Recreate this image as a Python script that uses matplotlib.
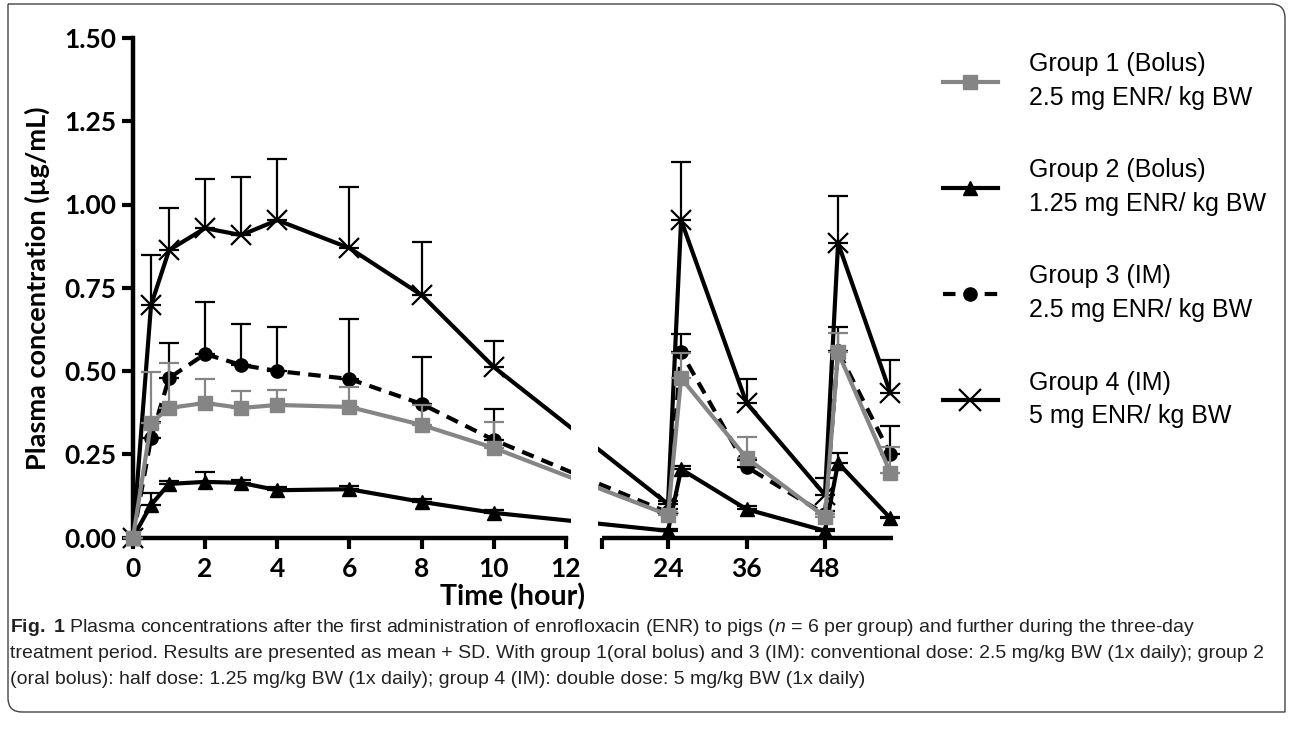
import numpy as np
import matplotlib
matplotlib.use("Agg")
import matplotlib.pyplot as plt
from matplotlib.lines import Line2D
from matplotlib.path import Path
from matplotlib.patches import PathPatch

# ---------------- data ----------------
times = [0, 0.5, 1, 2, 3, 4, 6, 8, 10, 24, 26, 36, 48, 50, 58]

g1_mean = [0, 0.344, 0.389, 0.404, 0.389, 0.398, 0.392, 0.338, 0.269, 0.068, 0.479, 0.239, 0.062, 0.556, 0.195]
g1_sd   = [0, 0.153, 0.135, 0.072, 0.051, 0.045, 0.060, 0.060, 0.078, 0.010, 0.075, 0.063, 0.010, 0.058, 0.077]

g2_mean = [0, 0.098, 0.161, 0.167, 0.164, 0.142, 0.145, 0.107, 0.074, 0.020, 0.205, 0.085, 0.020, 0.224, 0.058]
g2_sd   = [0, 0.035, 0.010, 0.030, 0.010, 0.010, 0.010, 0.010, 0.010, 0.005, 0.010, 0.010, 0.005, 0.030, 0.005]

g3_mean = [0, 0.298, 0.479, 0.551, 0.518, 0.500, 0.476, 0.401, 0.293, 0.075, 0.557, 0.212, 0.070, 0.560, 0.250]
g3_sd   = [0, 0.050, 0.105, 0.156, 0.123, 0.132, 0.180, 0.141, 0.093, 0.010, 0.054, 0.020, 0.010, 0.072, 0.085]

g4_mean = [0, 0.698, 0.863, 0.929, 0.908, 0.953, 0.869, 0.728, 0.512, 0.100, 0.953, 0.404, 0.128, 0.884, 0.434]
g4_sd   = [0, 0.150, 0.126, 0.148, 0.175, 0.184, 0.184, 0.159, 0.078, 0.010, 0.175, 0.072, 0.050, 0.141, 0.099]

x_ticks = [0, 2, 4, 6, 8, 10, 12, 24, 36, 48]
y_ticks = [0, 0.25, 0.50, 0.75, 1.00, 1.25, 1.50]

legend_labels = [
    "Group 1 (Bolus)\n2.5 mg ENR/ kg BW",
    "Group 2 (Bolus)\n1.25 mg ENR/ kg BW",
    "Group 3 (IM)\n2.5 mg ENR/ kg BW",
    "Group 4 (IM)\n5 mg ENR/ kg BW",
]
x_label = "Time (hour)"
y_label = "Plasma concentration (µg/mL)"
caption_lines = [
    r"$\mathbf{Fig.\ 1}$ Plasma concentrations after the first administration of enrofloxacin (ENR) to pigs ($\mathit{n}$ = 6 per group) and further during the three-day",
    "treatment period. Results are presented as mean + SD. With group 1(oral bolus) and 3 (IM): conventional dose: 2.5 mg/kg BW (1x daily); group 2",
    "(oral bolus): half dose: 1.25 mg/kg BW (1x daily); group 4 (IM): double dose: 5 mg/kg BW (1x daily)",
]

# ---------------- style ----------------
plt.rcParams["mathtext.fontset"] = "custom"
plt.rcParams["mathtext.rm"] = "Liberation Sans"
plt.rcParams["mathtext.it"] = "Liberation Sans:italic"
plt.rcParams["mathtext.bf"] = "Liberation Sans:bold"

AX_FONT = "Lato"
GRAY = "#858585"

# broken time axis (piecewise linear scale)
T_BP = np.array([0.0, 12.0, 13.9, 100.0])
U_BP = np.array([0.0, 433.0, 469.0, 469.0 + 86.1 * 6.54])


def fwd(t):
    t = np.asarray(t, dtype=float)
    out = np.interp(t, T_BP, U_BP)
    out = np.where(t < 0, t * 36.08, out)
    return out


def inv(u):
    u = np.asarray(u, dtype=float)
    out = np.interp(u, U_BP, T_BP)
    out = np.where(u < 0, u / 36.08, out)
    return out


W, H = 1293, 738
fig = plt.figure(figsize=(W / 100, H / 100), dpi=100)
ax = fig.add_axes([133 / W, 1 - 537.5 / H, (893 - 133) / W, (537.5 - 38) / H])
ax.set_xscale("function", functions=(fwd, inv))
ax.set_xlim(0, 58.4)
ax.set_ylim(0, 1.5)

common = dict(elinewidth=1.6, capsize=7.5, capthick=1.6, lw=3, clip_on=False)
ax.errorbar(times, g4_mean, yerr=[np.zeros(len(g4_sd)), g4_sd], color="black",
            marker="x", ms=14, mew=1.6, zorder=3, **common)
ax.errorbar(times, g3_mean, yerr=[np.zeros(len(g3_sd)), g3_sd], color="black",
            ls=(0, (3, 2)), marker="o", ms=9.5, zorder=3.1, **common)
ax.errorbar(times, g2_mean, yerr=[np.zeros(len(g2_sd)), g2_sd], color="black",
            marker="^", ms=9.5, zorder=3.2, **common)
ax.errorbar(times, g1_mean, yerr=[np.zeros(len(g1_sd)), g1_sd], color=GRAY,
            marker="s", ms=9.5, zorder=3.3, **common)

# hide connecting lines inside the axis break
ax.axvspan(12.26, 13.68, color="white", lw=0, zorder=5)

# spines / axes
for s in ["top", "right"]:
    ax.spines[s].set_visible(False)
ax.spines["left"].set_linewidth(3.2)
ax.spines["bottom"].set_linewidth(3.2)
ax.spines["bottom"].set_bounds(0, 12)
ax.hlines(0, 13.9, 58.4, colors="black", lw=3.2, clip_on=False, zorder=2.5)

ax.set_xticks(x_ticks)
ax.set_xticklabels([str(v) for v in x_ticks])
ax.set_xticks([13.9], minor=True)
ax.set_yticks(y_ticks)
ax.set_yticklabels([f"{v:.2f}" for v in y_ticks])
ax.tick_params(axis="both", which="both", width=3, length=8, direction="out",
               labelsize=19)
ax.tick_params(axis="x", pad=6)
ax.tick_params(axis="y", pad=4)
for lab in ax.get_xticklabels() + ax.get_yticklabels():
    lab.set_fontfamily(AX_FONT)
    lab.set_fontweight("bold")

ax.set_xlabel(x_label, fontsize=20.5, fontweight="bold", fontfamily=AX_FONT, labelpad=2)
ax.set_ylabel(y_label, fontsize=19.5, fontweight="bold", fontfamily=AX_FONT, labelpad=10)

# legend
handles = [
    Line2D([], [], color=GRAY, lw=3, marker="s", ms=9.5),
    Line2D([], [], color="black", lw=3, marker="^", ms=9.5),
    Line2D([], [], color="black", lw=3, ls=(0, (3, 2)), marker="o", ms=9.5),
    Line2D([], [], color="black", lw=3, marker="x", ms=16, mew=1.6),
]
leg = fig.legend(handles, legend_labels, loc="upper left",
                 bbox_to_anchor=(943 / W, 1 - 52 / H), frameon=False,
                 prop={"family": "Liberation Sans", "size": 18},
                 handlelength=2.2, handletextpad=1.25, labelspacing=1.95,
                 borderpad=0, borderaxespad=0)
for t in leg.get_texts():
    t.set_linespacing(1.5)

# caption
base_y = [632, 658, 684]
for line, yb in zip(caption_lines, base_y):
    fig.text(10 / W, 1 - yb / H, line, fontsize=14, family="Liberation Sans",
             va="baseline", ha="left", color="#222222")

# rounded border (top-right and bottom-left corners rounded)
x0, x1 = 8 / W, 1285 / W
y0, y1 = 1 - 712 / H, 1 - 4 / H
rx, ry = 14 / W, 14 / H
verts = [
    (x0, y1), (x1 - rx, y1), (x1, y1), (x1, y1 - ry), (x1, y0),
    (x0 + rx, y0), (x0, y0), (x0, y0 + ry), (x0, y1),
]
codes = [Path.MOVETO, Path.LINETO, Path.CURVE3, Path.CURVE3, Path.LINETO,
         Path.LINETO, Path.CURVE3, Path.CURVE3, Path.LINETO]
fig.add_artist(PathPatch(Path(verts, codes), transform=fig.transFigure,
                         fill=False, edgecolor="#444444", lw=1.0))

fig.savefig("out.png", dpi=100)
